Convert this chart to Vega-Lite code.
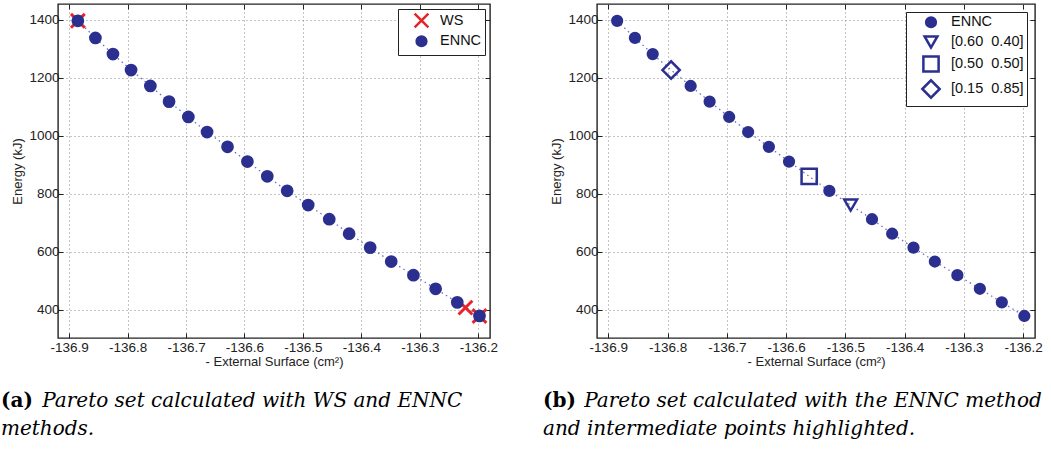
{
  "$schema": "https://vega.github.io/schema/vega-lite/v6.json",
  "background": "white",
  "padding": {"left": 0, "top": 2, "right": 0, "bottom": 0},
  "config": {
    "font": "Liberation Sans",
    "view": {"stroke": "#222222", "strokeWidth": 1.4},
    "axis": {"labelFont": "Liberation Sans", "labelFontSize": 13.5, "labelColor": "#222222", "titleFont": "Liberation Sans", "titleFontSize": 13, "titleFontWeight": "normal", "titleColor": "#222222", "tickSize": -5, "tickColor": "#222222", "tickWidth": 1, "domain": false, "grid": true, "gridDash": [1, 3], "gridColor": "#888888", "gridWidth": 1, "labelPadding": 4, "titlePadding": 4},
    "axisBottom": {"labelPadding": 7, "titlePadding": 2},
    "legend": {"orient": "top-right", "offset": 5, "padding": 3, "strokeColor": "#222222", "fillColor": "white", "labelFont": "Liberation Sans", "labelFontSize": 14.5, "labelColor": "#111111", "rowPadding": -2, "symbolStrokeWidth": 2.5, "labelOffset": 10, "symbolOffset": 12, "title": null, "cornerRadius": 0},
    "concat": {"spacing": 43}
  },
  "resolve": {
    "scale": {"shape": "independent", "fill": "independent", "stroke": "independent", "size": "independent"},
    "legend": {"shape": "independent", "fill": "independent", "stroke": "independent", "size": "independent"}
  },
  "datasets": {
    "left": [
      {"s": "WS", "x": -136.885, "y": 1397},
      {"s": "WS", "x": -136.222, "y": 407},
      {"s": "WS", "x": -136.198, "y": 378},
      {"s": "ENNC", "x": -136.885, "y": 1397},
      {"s": "ENNC", "x": -136.855, "y": 1338},
      {"s": "ENNC", "x": -136.825, "y": 1282},
      {"s": "ENNC", "x": -136.794, "y": 1227},
      {"s": "ENNC", "x": -136.761, "y": 1172},
      {"s": "ENNC", "x": -136.729, "y": 1118},
      {"s": "ENNC", "x": -136.696, "y": 1065},
      {"s": "ENNC", "x": -136.664, "y": 1013},
      {"s": "ENNC", "x": -136.629, "y": 962},
      {"s": "ENNC", "x": -136.595, "y": 911},
      {"s": "ENNC", "x": -136.561, "y": 860},
      {"s": "ENNC", "x": -136.527, "y": 810},
      {"s": "ENNC", "x": -136.491, "y": 761},
      {"s": "ENNC", "x": -136.455, "y": 712},
      {"s": "ENNC", "x": -136.421, "y": 662},
      {"s": "ENNC", "x": -136.385, "y": 614},
      {"s": "ENNC", "x": -136.349, "y": 566},
      {"s": "ENNC", "x": -136.311, "y": 519},
      {"s": "ENNC", "x": -136.273, "y": 472},
      {"s": "ENNC", "x": -136.236, "y": 425},
      {"s": "ENNC", "x": -136.198, "y": 378}
    ],
    "right": [
      {"s": "ENNC", "x": -136.885, "y": 1397},
      {"s": "ENNC", "x": -136.855, "y": 1338},
      {"s": "ENNC", "x": -136.825, "y": 1282},
      {"s": "[0.15\u00a0 0.85]", "x": -136.794, "y": 1227},
      {"s": "ENNC", "x": -136.761, "y": 1172},
      {"s": "ENNC", "x": -136.729, "y": 1118},
      {"s": "ENNC", "x": -136.696, "y": 1065},
      {"s": "ENNC", "x": -136.664, "y": 1013},
      {"s": "ENNC", "x": -136.629, "y": 962},
      {"s": "ENNC", "x": -136.595, "y": 911},
      {"s": "[0.50\u00a0 0.50]", "x": -136.561, "y": 860},
      {"s": "ENNC", "x": -136.527, "y": 810},
      {"s": "[0.60\u00a0 0.40]", "x": -136.491, "y": 761},
      {"s": "ENNC", "x": -136.455, "y": 712},
      {"s": "ENNC", "x": -136.421, "y": 662},
      {"s": "ENNC", "x": -136.385, "y": 614},
      {"s": "ENNC", "x": -136.349, "y": 566},
      {"s": "ENNC", "x": -136.311, "y": 519},
      {"s": "ENNC", "x": -136.273, "y": 472},
      {"s": "ENNC", "x": -136.236, "y": 425},
      {"s": "ENNC", "x": -136.198, "y": 378}
    ]
  },
  "hconcat": [
    {
      "title": {"text": "Pareto set calculated with WS and ENNC", "orient": "bottom", "anchor": "start", "font": "DejaVu Serif", "fontStyle": "italic", "fontWeight": "normal", "fontSize": 20, "color": "black", "dx": 42, "dy": -52},
      "resolve": {"legend": {"shape": "independent", "fill": "independent", "stroke": "independent", "size": "independent"}},
      "vconcat": [
        {
          "width": 432,
          "height": 334,
          "title": {"text": "(a)", "subtitle": "methods.", "orient": "bottom", "anchor": "start", "frame": "bounds", "font": "DejaVu Serif", "fontWeight": "bold", "fontSize": 20, "color": "black", "subtitleFont": "DejaVu Serif", "subtitleFontStyle": "italic", "subtitleFontSize": 20, "subtitleColor": "black", "subtitlePadding": 8, "offset": 22, "dx": -11},
          "data": {"name": "left"},
          "resolve": {"axis": {"x": "independent", "y": "independent"}},
          "layer": [
            {
              "transform": [{"filter": "datum.s === 'ENNC'"}],
              "mark": {"type": "line", "color": "#6a6ec4", "strokeWidth": 1.3, "strokeDash": [1.5, 3.5]},
              "encoding": {
                "x": {"field": "x", "type": "quantitative", "scale": {"domain": [-136.919, -136.18], "nice": false, "zero": false}, "axis": {"values": [-136.9, -136.8, -136.7, -136.6, -136.5, -136.4, -136.3, -136.2], "title": "- External Surface (cm²)", "labelExpr": "replace(format(datum.value, '.1f'), '\u2212', '-')"}},
                "y": {"field": "y", "type": "quantitative", "scale": {"domain": [302, 1455], "nice": false, "zero": false}, "axis": {"values": [400, 600, 800, 1000, 1200, 1400], "title": "Energy (kJ)", "format": "d"}}
              }
            },
            {
              "mark": {"type": "point", "opacity": 1, "strokeWidth": 3},
              "encoding": {
                "x": {"field": "x", "type": "quantitative", "axis": null},
                "y": {"field": "y", "type": "quantitative", "axis": null},
                "shape": {"field": "s", "type": "nominal", "scale": {"domain": ["WS", "ENNC"], "range": ["M-1,-1L1,1M-1,1L1,-1", "circle"]}, "legend": {"offset": 5}},
                "fill": {"field": "s", "type": "nominal", "scale": {"domain": ["WS", "ENNC"], "range": ["transparent", "#2b2f8f"]}},
                "stroke": {"field": "s", "type": "nominal", "scale": {"domain": ["WS", "ENNC"], "range": ["#e5252a", "#2b2f8f"]}},
                "size": {"field": "s", "type": "nominal", "scale": {"domain": ["WS", "ENNC"], "range": [190, 95]}}
              }
            },
            {
              "mark": {"type": "point", "opacity": 0},
              "encoding": {
                "x": {"field": "x", "type": "quantitative", "axis": {"orient": "top", "labels": false, "grid": false, "title": null, "values": [-136.9, -136.8, -136.7, -136.6, -136.5, -136.4, -136.3, -136.2]}},
                "y": {"field": "y", "type": "quantitative", "axis": {"orient": "right", "labels": false, "grid": false, "title": null, "values": [400, 600, 800, 1000, 1200, 1400]}}
              }
            }
          ]
        }
      ]
    },
    {
      "title": {"text": "Pareto set calculated with the ENNC method", "orient": "bottom", "anchor": "start", "font": "DejaVu Serif", "fontStyle": "italic", "fontWeight": "normal", "fontSize": 20, "color": "black", "dx": 42, "dy": -52},
      "resolve": {"legend": {"shape": "independent", "fill": "independent", "stroke": "independent", "size": "independent"}},
      "vconcat": [
        {
          "width": 438,
          "height": 334,
          "title": {"text": "(b)", "subtitle": "and intermediate points highlighted.", "orient": "bottom", "anchor": "start", "frame": "bounds", "font": "DejaVu Serif", "fontWeight": "bold", "fontSize": 20, "color": "black", "subtitleFont": "DejaVu Serif", "subtitleFontStyle": "italic", "subtitleFontSize": 20, "subtitleColor": "black", "subtitlePadding": 8, "offset": 22, "dx": -8},
          "data": {"name": "right"},
          "resolve": {"axis": {"x": "independent", "y": "independent"}},
          "layer": [
            {
              "mark": {"type": "line", "color": "#6a6ec4", "strokeWidth": 1.3, "strokeDash": [1.5, 3.5]},
              "encoding": {
                "x": {"field": "x", "type": "quantitative", "scale": {"domain": [-136.919, -136.18], "nice": false, "zero": false}, "axis": {"values": [-136.9, -136.8, -136.7, -136.6, -136.5, -136.4, -136.3, -136.2], "title": "- External Surface (cm²)", "labelExpr": "replace(format(datum.value, '.1f'), '\u2212', '-')"}},
                "y": {"field": "y", "type": "quantitative", "scale": {"domain": [302, 1455], "nice": false, "zero": false}, "axis": {"values": [400, 600, 800, 1000, 1200, 1400], "title": "Energy (kJ)", "format": "d"}}
              }
            },
            {
              "mark": {"type": "point", "opacity": 1, "strokeWidth": 2.5},
              "encoding": {
                "x": {"field": "x", "type": "quantitative", "axis": null},
                "y": {"field": "y", "type": "quantitative", "axis": null},
                "shape": {"field": "s", "type": "nominal", "scale": {"domain": ["ENNC", "[0.60\u00a0 0.40]", "[0.50\u00a0 0.50]", "[0.15\u00a0 0.85]"], "range": ["circle", "triangle-down", "square", "diamond"]}, "legend": {"offset": 8}},
                "fill": {"field": "s", "type": "nominal", "scale": {"domain": ["ENNC", "[0.60\u00a0 0.40]", "[0.50\u00a0 0.50]", "[0.15\u00a0 0.85]"], "range": ["#2b2f8f", "transparent", "transparent", "transparent"]}},
                "stroke": {"field": "s", "type": "nominal", "scale": {"domain": ["ENNC", "[0.60\u00a0 0.40]", "[0.50\u00a0 0.50]", "[0.15\u00a0 0.85]"], "range": ["#2b2f8f", "#2b2f8f", "#2b2f8f", "#2b2f8f"]}},
                "size": {"field": "s", "type": "nominal", "scale": {"domain": ["ENNC", "[0.60\u00a0 0.40]", "[0.50\u00a0 0.50]", "[0.15\u00a0 0.85]"], "range": [95, 300, 150, 230]}}
              }
            },
            {
              "mark": {"type": "point", "opacity": 0},
              "encoding": {
                "x": {"field": "x", "type": "quantitative", "axis": {"orient": "top", "labels": false, "grid": false, "title": null, "values": [-136.9, -136.8, -136.7, -136.6, -136.5, -136.4, -136.3, -136.2]}},
                "y": {"field": "y", "type": "quantitative", "axis": {"orient": "right", "labels": false, "grid": false, "title": null, "values": [400, 600, 800, 1000, 1200, 1400]}}
              }
            }
          ]
        }
      ]
    }
  ]
}
